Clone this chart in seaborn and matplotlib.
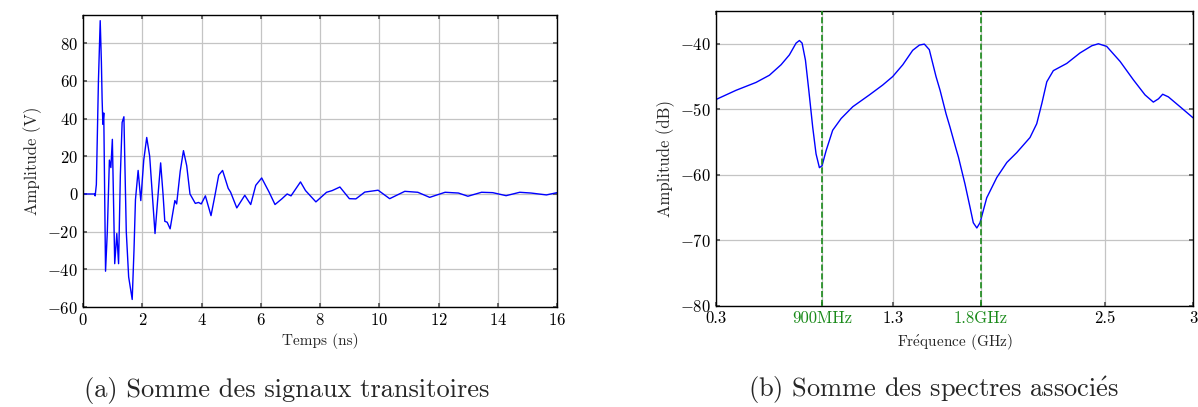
import numpy as np
import pandas as pd
import matplotlib
matplotlib.use('Agg')
import matplotlib.pyplot as plt
import seaborn as sns

# signal transitoire
temps = [0, 0.39, 0.41, 0.45, 0.52, 0.58, 0.62, 0.645, 0.67, 0.70, 0.76, 0.82, 0.89, 0.94, 0.99,
         1.07, 1.14, 1.2, 1.26, 1.32, 1.38, 1.46, 1.54, 1.66, 1.72, 1.77, 1.86, 1.95, 2.05, 2.15,
         2.25, 2.43, 2.55, 2.62, 2.7, 2.76, 2.84, 2.94, 3.1, 3.16, 3.28, 3.39, 3.5, 3.61, 3.79,
         3.9, 3.99, 4.13, 4.32, 4.45, 4.58, 4.71, 4.9, 4.98, 5.19, 5.46, 5.66, 5.83, 6.03, 6.19,
         6.28, 6.48, 6.71, 6.89, 7.02, 7.34, 7.51, 7.86, 8.22, 8.41, 8.67, 8.99, 9.21, 9.51, 9.96,
         10.35, 10.86, 11.3, 11.7, 12.22, 12.67, 12.99, 13.45, 13.83, 14.28, 14.74, 15.12, 15.64, 16]
amplitude = [0, 0, -1, 5, 60, 92, 70, 50, 37, 43, -41, -20, 18, 14, 29,
             -37, -21, -37, 10, 38, 41, -20, -44, -56, -30, -3, 12.5, -3.5, 18, 30,
             20, -21, 3, 16.5, 0, -14.5, -15, -18.5, -3.5, -5.3, 12, 23, 15, 0, -5,
             -4.5, -5.3, -1, -11.5, -1, 10, 12.5, 3, 1, -7.4, -0.7, -5.6, 4.6, 8.5, 3.7,
             1, -5.6, -2.6, 0, -1, 6.4, 1.8, -4.2, 0.9, 1.8, 3.7, -2.5, -2.6, 1, 2,
             -2.5, 1.4, 0.9, -1.8, 0.9, 0.5, -1.2, 0.9, 0.7, -0.9, 0.9, 0.5, -0.5, 0.7]

# spectre associe
freq = [0.3, 0.413, 0.526, 0.602, 0.668, 0.715, 0.753, 0.772, 0.787, 0.806, 0.825, 0.847, 0.866,
        0.885, 0.9, 0.923, 0.96, 1.008, 1.074, 1.168, 1.243, 1.3, 1.357, 1.413, 1.451, 1.479,
        1.507, 1.545, 1.568, 1.602, 1.624, 1.658, 1.672, 1.709, 1.738, 1.756, 1.776, 1.794, 1.832,
        1.889, 1.946, 2.002, 2.077, 2.115, 2.144, 2.172, 2.209, 2.285, 2.36, 2.427, 2.464, 2.511,
        2.587, 2.662, 2.728, 2.775, 2.804, 2.828, 2.86, 2.926, 3.0]
spectre = [-48.5, -47.1, -45.9, -44.8, -43.2, -41.7, -39.9, -39.5, -39.9, -42.5, -47.1, -52.7, -56.8,
           -58.9, -58.6, -56.3, -53.2, -51.4, -49.6, -47.8, -46.3, -45.0, -43.2, -41.0, -40.2, -40.05,
           -40.9, -45.0, -47.1, -50.7, -52.7, -56.0, -57.3, -61.4, -65.0, -67.3, -68.1, -67.3, -63.5,
           -60.4, -58.1, -56.6, -54.3, -52.2, -49.1, -45.8, -44.1, -43.0, -41.4, -40.3, -40.0, -40.4,
           -42.7, -45.5, -47.8, -48.9, -48.4, -47.7, -48.1, -49.6, -51.3]

freq_ticks = [0.3, 0.9, 1.3, 1.8, 2.5, 3]
freq_labels = ['0.3', '900MHz', '1.3', '1.8GHz', '2.5', '3']
marqueurs = [0.9, 1.8]

sns.set_theme(style='whitegrid', rc={
    'axes.edgecolor': 'black', 'grid.color': '#c4c4c4', 'grid.linewidth': 0.9,
    'xtick.direction': 'in', 'ytick.direction': 'in',
    'xtick.bottom': True, 'ytick.left': True, 'xtick.top': True, 'ytick.right': True,
    'xtick.major.size': 3, 'ytick.major.size': 3,
    'xtick.color': '#555555', 'ytick.color': '#555555',
    'xtick.labelcolor': 'black', 'ytick.labelcolor': 'black',
    'axes.formatter.use_mathtext': True, 'mathtext.fontset': 'cm',
})
plt.rcParams['font.family'] = ['cmr10', 'DejaVu Serif']

fig = plt.figure(figsize=(11.98, 4.07), dpi=100)
ax1 = fig.add_axes([0.0693, 0.2457, 0.3957, 0.7174])
ax2 = fig.add_axes([0.5977, 0.2482, 0.3982, 0.7248])

df_t = pd.DataFrame({'t': temps, 'v': amplitude})
sns.lineplot(data=df_t, x='t', y='v', ax=ax1, color='#0000ff', linewidth=1.0)
ax1.set_xlim(0, 16)
ax1.set_ylim(-60, 95)
ax1.set_xticks(range(0, 17, 2))
ax1.set_yticks(range(-60, 81, 20))
ax1.set_xlabel('Temps (ns)', fontsize=11)
ax1.set_ylabel('Amplitude (V)', fontsize=12)
ax1.tick_params(labelsize=12)

df_f = pd.DataFrame({'f': freq, 'db': spectre})
sns.lineplot(data=df_f, x='f', y='db', ax=ax2, color='#0000ff', linewidth=1.0)
for m in marqueurs:
    ax2.axvline(m, color='#1a8a1a', linestyle='--', linewidth=1.2, zorder=3)
ax2.set_xlim(0.3, 3)
ax2.set_ylim(-80, -35)
ax2.set_xticks(freq_ticks)
ax2.set_xticklabels(freq_labels)
for lab, f in zip(ax2.get_xticklabels(), freq_ticks):
    if f in marqueurs:
        lab.set_color('#1a8a1a')
ax2.set_yticks(range(-80, -39, 10))
ax2.set_xlabel(r'Fr$\mathrm{\acute{e}}$quence (GHz)', fontsize=11)
ax2.set_ylabel('Amplitude (dB)', fontsize=12)
ax2.tick_params(labelsize=12)

for ax in (ax1, ax2):
    for s in ax.spines.values():
        s.set_color('black')
        s.set_linewidth(1.0)

fig.text(0.2395, 0.025, '(a) Somme des signaux transitoires', ha='center', fontsize=19)
fig.text(0.7795, 0.025, r'(b) Somme des spectres associ$\mathrm{\acute{e}}$s', ha='center', fontsize=19)

fig.savefig('out.png', dpi=100)
